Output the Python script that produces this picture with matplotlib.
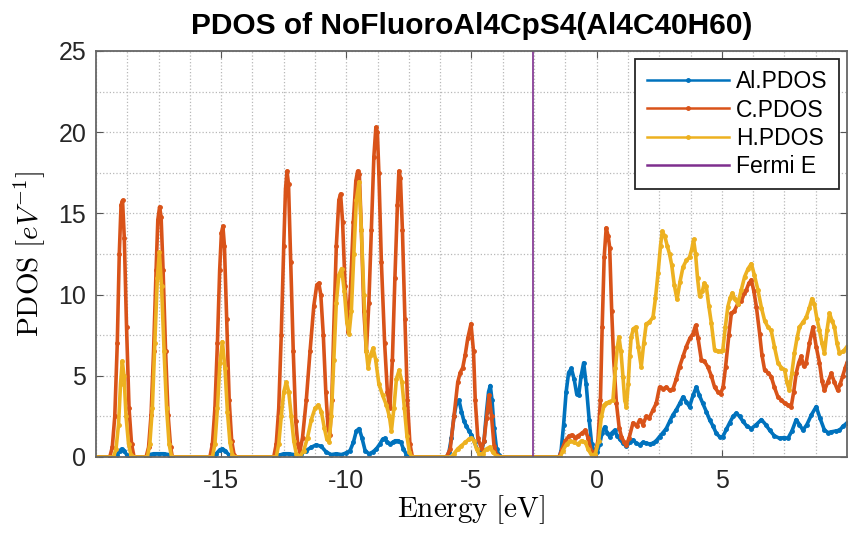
import matplotlib
matplotlib.use('Agg')
import matplotlib.pyplot as plt
from matplotlib.ticker import MultipleLocator

plt.rcParams['font.family'] = ['Liberation Sans', 'DejaVu Sans']
plt.rcParams['mathtext.fontset'] = 'cm'
plt.rcParams['axes.unicode_minus'] = False

# energies [eV] and PDOS values
al_e = [-20, -19.25, -19.15, -19.05, -18.97, -18.88, -18.78, -18.65, -17.95, -17.85, -17.7, -17.5,
        -17.3, -17.1, -16.95, -15.3, -15.2, -15.05, -14.95, -14.85, -14.7, -14.6, -12.8, -12.7,
        -12.5, -12.3, -12.1, -11.95, -11.8, -11.6, -11.4, -11.2, -11.0, -10.8, -10.6, -10.4,
        -10.2, -10.0, -9.85, -9.72, -9.6, -9.49, -9.38, -9.25, -9.1, -8.95, -8.8, -8.66, -8.55,
        -8.46, -8.36, -8.26, -8.15, -8.05, -7.93, -7.82, -7.72, -7.6, -7.5, -6.0, -5.9, -5.8,
        -5.7, -5.6, -5.5, -5.4, -5.3, -5.2, -5.1, -5.0, -4.88, -4.75, -4.62, -4.5, -4.4, -4.32,
        -4.25, -4.18, -4.1, -4.0, -3.9, -3.8, -1.5, -1.42, -1.32, -1.22, -1.12, -1.01, -0.9,
        -0.8, -0.72, -0.62, -0.52, -0.42, -0.3, -0.2, -0.08, 0.02, 0.12, 0.22, 0.32, 0.42, 0.52,
        0.62, 0.72, 0.82, 0.92, 1.05, 1.19, 1.32, 1.45, 1.58, 1.72, 1.85, 1.98, 2.12, 2.25, 2.38,
        2.51, 2.65, 2.78, 2.92, 3.05, 3.18, 3.32, 3.45, 3.58, 3.71, 3.85, 3.98, 4.1, 4.24, 4.38,
        4.51, 4.65, 4.78, 4.91, 5.04, 5.18, 5.31, 5.45, 5.58, 5.71, 5.84, 6.0, 6.18, 6.38, 6.58,
        6.75, 6.91, 7.1, 7.31, 7.5, 7.64, 7.8, 7.97, 8.1, 8.24, 8.4, 8.58, 8.77, 8.92, 9.1, 9.25,
        9.37, 9.55, 9.7, 9.85, 10.0]
al_pdos = [0, 0, 0.15, 0.4, 0.5, 0.4, 0.15, 0, 0, 0.15, 0.2, 0.2,
           0.2, 0.15, 0, 0, 0.2, 0.45, 0.5, 0.4, 0.15, 0, 0, 0.1,
           0.2, 0.2, 0.15, 0.05, 0.2, 0.4, 0.6, 0.75, 0.65, 0.3, 0.15, 0.2,
           0.15, 0.25, 0.4, 0.9, 1.6, 1.75, 1.2, 0.4, 0.2, 0.3, 0.5, 0.8, 1.1,
           1.15, 0.9, 0.8, 0.9, 1.0, 1.0, 0.9, 0.5, 0.15, 0, 0, 0.3, 1.2,
           2.5, 3.3, 3.5, 2.8, 2.2, 1.9, 1.6, 1.35, 0.9, 0.4, 0.2, 1.0, 2.8, 4.0,
           4.4, 3.5, 1.8, 0.5, 0.1, 0, 0, 0.4, 2.0, 4.0, 5.2, 5.45, 4.8,
           3.9, 3.8, 5.0, 5.8, 4.5, 2.3, 0.8, 0.2, 0.3, 0.8, 1.5, 1.85, 1.5, 1.25,
           1.5, 1.65, 1.3, 1.1, 0.85, 0.65, 0.9, 1.05, 0.85, 0.75, 0.9, 0.85, 0.8, 0.85, 1.0,
           1.25, 1.5, 1.75, 2.2, 2.6, 2.9, 3.3, 3.7, 3.4, 3.1, 3.8, 4.3, 3.8, 3.3, 2.8,
           2.3, 1.9, 1.45, 1.25, 1.25, 1.7, 2.1, 2.5, 2.7, 2.5, 2.2, 1.9, 1.75, 2.0, 2.3,
           2.0, 1.65, 1.3, 1.15, 1.2, 1.15, 1.6, 2.3, 2.0, 1.65, 2.0, 2.6, 3.1, 2.4, 1.65, 1.5,
           1.55, 1.6, 1.65, 1.9, 2.1]

c_e = [-20, -19.45, -19.35, -19.25, -19.15, -19.07, -19.0, -18.94, -18.87, -18.78, -18.68, -18.58,
       -18.48, -18.0, -17.9, -17.8, -17.7, -17.6, -17.53, -17.46, -17.4, -17.32, -17.22, -17.12,
       -17.02, -16.95, -15.45, -15.35, -15.25, -15.15, -15.06, -14.99, -14.93, -14.87, -14.78,
       -14.68, -14.58, -14.48, -14.43, -12.9, -12.8, -12.7, -12.6, -12.5, -12.43, -12.37, -12.31,
       -12.22, -12.12, -12.02, -11.94, -11.86, -11.75, -11.6, -11.45, -11.3, -11.18, -11.1, -11.02,
       -10.92, -10.82, -10.73, -10.66, -10.58, -10.5, -10.4, -10.3, -10.23, -10.15, -10.05, -9.93,
       -9.83, -9.72, -9.62, -9.55, -9.48, -9.4, -9.3, -9.2, -9.1, -9.0, -8.9, -8.82, -8.76, -8.7,
       -8.6, -8.47, -8.36, -8.26, -8.16, -8.06, -7.96, -7.9, -7.84, -7.76, -7.66, -7.56, -7.46,
       -7.36, -6.0, -5.85, -5.7, -5.55, -5.45, -5.35, -5.25, -5.15, -5.02, -4.92, -4.85, -4.75,
       -4.6, -4.5, -4.4, -4.3, -4.2, -4.1, -4.0, -3.8, -1.5, -1.38, -1.25, -1.1, -1.0, -0.85,
       -0.75, -0.6, -0.45, -0.35, -0.22, -0.08, 0.05, 0.15, 0.22, 0.3, 0.38, 0.46, 0.52, 0.6,
       0.68, 0.79, 0.9, 0.99, 1.1, 1.19, 1.3, 1.45, 1.6, 1.72, 1.85, 1.98, 2.1, 2.25, 2.38, 2.51,
       2.65, 2.78, 2.92, 3.05, 3.18, 3.31, 3.45, 3.58, 3.72, 3.85, 3.95, 4.05, 4.18, 4.3, 4.44,
       4.58, 4.71, 4.85, 4.95, 5.05, 5.15, 5.28, 5.38, 5.5, 5.64, 5.78, 5.9, 5.98, 6.08, 6.18,
       6.28, 6.38, 6.51, 6.6, 6.71, 6.84, 6.97, 7.1, 7.24, 7.38, 7.51, 7.64, 7.77, 7.87, 7.97,
       8.07, 8.17, 8.27, 8.37, 8.5, 8.64, 8.77, 8.9, 9.0, 9.1, 9.23, 9.37, 9.5, 9.63, 9.73, 9.83,
       9.93, 10.0]
c_pdos = [0, 0, 0.6, 2.5, 7.0, 12.5, 15.5, 15.8, 13.5, 8.0, 3.0, 0.8,
          0, 0, 0.6, 2.6, 6.5, 11.5, 14.6, 15.4, 14.8, 11.5, 6.5, 2.6,
          0.6, 0, 0, 0.8, 3.0, 7.0, 11.5, 13.8, 14.2, 13.0, 8.5,
          3.5, 1.0, 0.1, 0, 0, 0.8, 3.0, 7.5, 13.0, 16.5, 17.6, 16.8,
          12.0, 6.5, 2.2, 0.8, 0.3, 1.2, 3.5, 6.5, 9.3, 10.6, 10.7, 10.0,
          7.5, 4.0, 1.8, 1.35, 3.5, 8.0, 13.0, 15.8, 16.2, 14.5, 10.5, 7.7,
          10.5, 14.5, 17.0, 17.6, 17.4, 14.0, 9.0, 6.5, 9.5, 14.0, 18.5, 20.3, 20.0, 17.5,
          12.0, 7.0, 4.0, 3.0, 6.0, 11.0, 15.5, 17.6, 17.2, 14.0, 8.5, 3.5, 0.8,
          0, 0, 0.5, 2.5, 4.6, 5.2, 5.5, 6.3, 7.3, 8.2, 6.5, 3.5, 1.2,
          0.5, 1.0, 2.4, 3.8, 2.5, 0.7, 0.1, 0, 0, 0.5, 1.0, 1.3, 1.35, 1.2,
          1.3, 1.45, 1.65, 1.2, 0.4, 0.1, 1.0, 3.5, 8.0, 12.3, 14.1, 13.6, 12.9, 9.0,
          6.0, 3.3, 1.8, 1.25, 0.9, 0.75, 1.2, 2.1, 1.9, 2.3, 2.0, 2.5, 2.4, 2.9, 3.3, 4.3,
          4.2, 4.3, 4.1, 4.2, 4.8, 5.55, 6.2, 6.8, 7.3, 7.6, 8.1, 7.3, 6.0, 5.9, 5.55,
          5.0, 4.3, 4.0, 3.9, 4.3, 5.55, 7.5, 8.85, 9.0, 9.45, 9.6, 10.1, 10.3, 10.7, 10.9,
          10.2, 9.25, 7.6, 6.3, 5.35, 5.2, 4.95, 4.3, 3.7, 3.5, 3.3, 3.2, 3.1, 4.0, 5.15,
          5.8, 6.2, 5.6, 5.8, 7.0, 8.0, 6.8, 5.8, 4.7, 4.1, 4.6, 5.15, 4.6, 4.1, 4.5, 5.0,
          5.5, 5.8]

h_e = [-20, -19.3, -19.2, -19.1, -19.02, -18.95, -18.88, -18.8, -18.7, -18.6, -18.5,
       -17.95, -17.85, -17.75, -17.65, -17.55, -17.47, -17.38, -17.28, -17.18, -17.08, -16.98,
       -15.35, -15.25, -15.15, -15.05, -14.95, -14.85, -14.75, -14.65, -14.55, -14.45,
       -12.8, -12.7, -12.6, -12.5, -12.4, -12.3, -12.2, -12.1, -12.0, -11.86, -11.7, -11.55,
       -11.4, -11.25, -11.12, -11.0, -10.88, -10.78, -10.69, -10.6, -10.5, -10.4, -10.3, -10.19,
       -10.08, -9.98, -9.89, -9.8, -9.7, -9.6, -9.49, -9.4, -9.3, -9.2, -9.13, -9.03, -8.93,
       -8.83, -8.7, -8.55, -8.4, -8.28, -8.2, -8.1, -8.0, -7.89, -7.78, -7.68, -7.58, -7.48,
       -7.38, -5.8, -5.7, -5.55, -5.4, -5.25, -5.1, -5.0, -4.9, -4.8, -4.7, -4.55, -4.4, -4.28,
       -4.15, -4.0, -3.9, -1.45, -1.35, -1.2, -1.05, -0.9, -0.75, -0.6, -0.45, -0.35, -0.2,
       -0.05, 0.08, 0.19, 0.3, 0.39, 0.5, 0.65, 0.75, 0.83, 0.89, 0.97, 1.05, 1.12, 1.19, 1.26,
       1.32, 1.38, 1.47, 1.56, 1.66, 1.78, 1.88, 1.98, 2.1, 2.25, 2.35, 2.45, 2.55, 2.62, 2.72,
       2.82, 2.91, 3.0, 3.1, 3.21, 3.33, 3.45, 3.58, 3.71, 3.8, 3.87, 3.95, 4.03, 4.11, 4.22,
       4.3, 4.38, 4.48, 4.58, 4.71, 4.85, 4.95, 5.04, 5.14, 5.24, 5.33, 5.42, 5.53, 5.64, 5.78,
       5.91, 6.05, 6.18, 6.3, 6.44, 6.58, 6.71, 6.84, 6.97, 7.1, 7.24, 7.38, 7.51, 7.6, 7.7,
       7.8, 7.9, 8.0, 8.1, 8.24, 8.37, 8.5, 8.6, 8.7, 8.8, 8.9, 9.0, 9.1, 9.2, 9.3, 9.4, 9.5,
       9.6, 9.7, 9.85, 10.0]
h_pdos = [0, 0, 0.5, 2.0, 4.5, 5.9, 5.0, 2.5, 0.8, 0.1, 0,
          0, 0.8, 3.0, 7.0, 11.0, 12.6, 10.5, 6.5, 3.0, 0.8, 0,
          0, 0.8, 3.0, 5.8, 7.1, 5.5, 2.8, 0.9, 0.1, 0,
          0, 0.8, 2.5, 4.0, 4.6, 4.0, 2.5, 1.0, 0.2, 0, 0.4, 1.2,
          2.3, 3.0, 3.2, 2.8, 1.8, 1.1, 0.95, 2.5, 6.0, 9.5, 11.2, 11.6,
          10.2, 8.3, 7.6, 9.0, 12.5, 15.8, 16.95, 14.0, 10.0, 6.5, 5.5, 6.3, 6.7,
          6.0, 4.5, 3.8, 3.2, 2.5, 1.6, 3.0, 4.8, 5.35, 4.6, 3.0, 1.3, 0.3,
          0, 0, 0.2, 0.5, 0.7, 0.9, 1.1, 1.15, 1.0, 0.5, 0.2, 0.2, 0.5, 0.6,
          0.3, 0.05, 0, 0, 0.4, 0.8, 1.0, 0.9, 0.8, 1.0, 0.9, 0.5, 0.1,
          0.2, 1.0, 2.5, 3.2, 3.3, 3.4, 3.5, 5.5, 6.8, 7.4, 6.5, 4.95, 3.5, 3.1, 4.5,
          6.2, 7.4, 7.9, 8.0, 6.8, 5.55, 7.0, 8.2, 8.3, 8.6, 9.8, 11.3, 13.0, 13.9, 13.6,
          13.0, 12.5, 11.8, 10.6, 9.7, 10.8, 11.7, 12.1, 12.3, 12.8, 13.4, 12.5, 11.0, 9.9, 10.2,
          10.7, 10.5, 9.3, 8.25, 6.6, 6.5, 6.5, 6.6, 8.0, 9.25, 9.8, 10.1, 9.7, 9.45, 10.3,
          11.1, 11.6, 11.9, 11.2, 10.3, 9.2, 8.4, 8.0, 7.8, 6.8, 5.8, 5.5, 5.35, 4.6, 4.1,
          5.2, 6.4, 7.3, 8.0, 8.3, 8.6, 9.2, 9.75, 9.4, 8.5, 7.8, 7.0, 6.4, 7.8, 8.85, 8.4, 8.0,
          7.0, 6.4, 6.5, 6.8]

fermi_e = -2.55

fig = plt.figure(figsize=(8.48, 5.36), dpi=100)
ax = fig.add_axes([96/848, 79/536, 751/848, 406/536])

ax.plot(al_e, al_pdos, '.-', color='#0072BD', lw=2.6, ms=5, label='Al.PDOS')
ax.plot(c_e, c_pdos, '.-', color='#D95319', lw=2.6, ms=5, label='C.PDOS')
ax.plot(h_e, h_pdos, '.-', color='#EDB120', lw=2.6, ms=5, label='H.PDOS')
ax.axvline(fermi_e, color='#7E2F8E', lw=1.2, label='Fermi E')

ax.set_xlim(-20, 10)
ax.set_ylim(0, 25)
ax.set_xticks([-15, -10, -5, 0, 5])
ax.set_yticks([0, 5, 10, 15, 20, 25])
ax.xaxis.set_minor_locator(MultipleLocator(1.25))
ax.yaxis.set_minor_locator(MultipleLocator(2.5))
ax.grid(True, which='both', linestyle=':', color='#b8b8b8', lw=0.9)
ax.set_axisbelow(True)

ax.tick_params(which='major', direction='in', top=True, right=True, length=5,
               color='#555555', labelsize=18, labelcolor='#262626')
ax.tick_params(axis='x', pad=9)
ax.tick_params(axis='y', pad=7)
ax.tick_params(which='minor', length=0)
for s in ax.spines.values():
    s.set_color('#666666')
    s.set_linewidth(1.3)

ax.set_title('PDOS of NoFluoroAl4CpS4(Al4C40H60)', fontsize=21.5, fontweight='bold', pad=12)
ax.set_xlabel(r'$\mathrm{Energy\ [eV]}$', fontsize=21, labelpad=0)
ax.set_ylabel(r'$\mathrm{PDOS}\ [eV^{-1}]$', fontsize=21, labelpad=8)

leg = ax.legend(loc='upper right', fontsize=16.5, fancybox=False, framealpha=1,
                edgecolor='#262626', handlelength=3.6, handletextpad=0.3,
                labelspacing=0.22, borderpad=0.5, borderaxespad=0.35)
leg.get_frame().set_linewidth(1.3)
for ln in leg.get_lines():
    ln.set_linewidth(1.8)

fig.savefig('out.png', dpi=100)
